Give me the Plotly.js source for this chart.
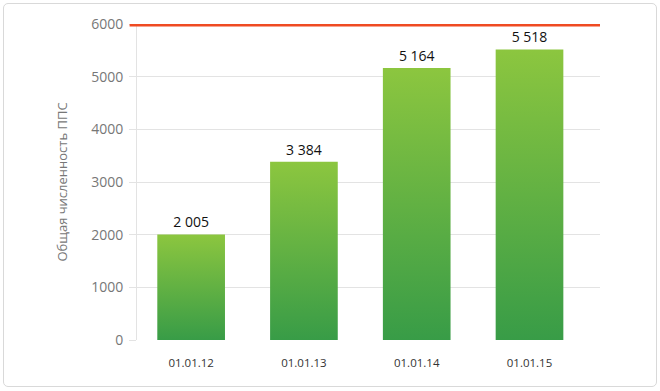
<!DOCTYPE html>
<html>
<head>
<meta charset="utf-8">
<script src="https://cdn.plot.ly/plotly-3.0.1.min.js"></script>
<style>
  body { margin: 0; background: #fff; }
  #wrap { position: relative; width: 660px; height: 391px; }
  #chart { position: absolute; left: 0; top: 0; width: 660px; height: 391px; }
  #frame { position: absolute; left: 3px; top: 3px; width: 652px; height: 382px;
           border: 1px solid #d9d9d9; border-radius: 5px; pointer-events: none; }
</style>
</head>
<body>
<div id="wrap">
  <div id="frame"></div>
  <div id="chart"></div>
</div>
<script>
const categories = ["01.01.12", "01.01.13", "01.01.14", "01.01.15"];
const values = [2005, 3384, 5164, 5518];
const valueLabels = ["2 005", "3 384", "5 164", "5 518"];
const targetLevel = 6000;
const yTicks = [0, 1000, 2000, 3000, 4000, 5000, 6000];

const trace = {
  type: "bar",
  x: categories,
  y: values,
  text: valueLabels,
  textposition: "outside",
  textfont: { family: "Open Sans, sans-serif", size: 14, color: "#111" },
  cliponaxis: false,
  width: 0.6,
  marker: { color: "#62b143", line: { width: 0 } },
  hoverinfo: "none"
};

const layout = {
  width: 660, height: 391,
  margin: { l: 137, r: 60, t: 24, b: 51 },
  paper_bgcolor: "rgba(0,0,0,0)",
  plot_bgcolor: "rgba(0,0,0,0)",
  showlegend: false,
  xaxis: {
    type: "category",
    range: [-0.48, 3.625],
    showgrid: false,
    zeroline: false,
    showline: false,
    ticks: "",
    ticklabelstandoff: 14,
    tickfont: { family: "Open Sans, sans-serif", size: 11.5, color: "#333" }
  },
  yaxis: {
    range: [0, targetLevel],
    tickvals: yTicks,
    ticktext: yTicks.map(String),
    showgrid: true,
    gridcolor: "#e3e3e3",
    gridwidth: 1,
    zeroline: false,
    showline: true,
    linecolor: "#e3e3e3",
    ticks: "outside",
    ticklen: 7,
    tickcolor: "#e3e3e3",
    ticklabelstandoff: 3,
    tickfont: { family: "Open Sans, sans-serif", size: 14, color: "#777" },
    title: { text: "Общая численность ППС", standoff: 20,
             font: { family: "Open Sans, sans-serif", size: 13, color: "#777" } }
  },
  shapes: [{
    type: "line", xref: "paper", yref: "y",
    x0: -0.016, x1: 1.0, y0: targetLevel, y1: targetLevel,
    line: { color: "#ef4b22", width: 5 }
  }]
};

Plotly.newPlot("chart", [trace], layout, { displayModeBar: false, staticPlot: true }).then(function (gd) {
  const svg = gd.querySelector("svg.main-svg");
  const ns = "http://www.w3.org/2000/svg";
  let defs = svg.querySelector("defs");
  if (!defs) { defs = document.createElementNS(ns, "defs"); svg.insertBefore(defs, svg.firstChild); }
  const grad = document.createElementNS(ns, "linearGradient");
  grad.setAttribute("id", "barGrad");
  grad.setAttribute("x1", "0"); grad.setAttribute("y1", "0");
  grad.setAttribute("x2", "0"); grad.setAttribute("y2", "1");
  [["0%", "#8cc63f"], ["100%", "#389c47"]].forEach(function (s) {
    const st = document.createElementNS(ns, "stop");
    st.setAttribute("offset", s[0]);
    st.setAttribute("stop-color", s[1]);
    grad.appendChild(st);
  });
  defs.appendChild(grad);
  gd.querySelectorAll(".bars .point path").forEach(function (p) {
    p.style.fill = "url(#barGrad)";
  });
});
</script>
</body>
</html>
